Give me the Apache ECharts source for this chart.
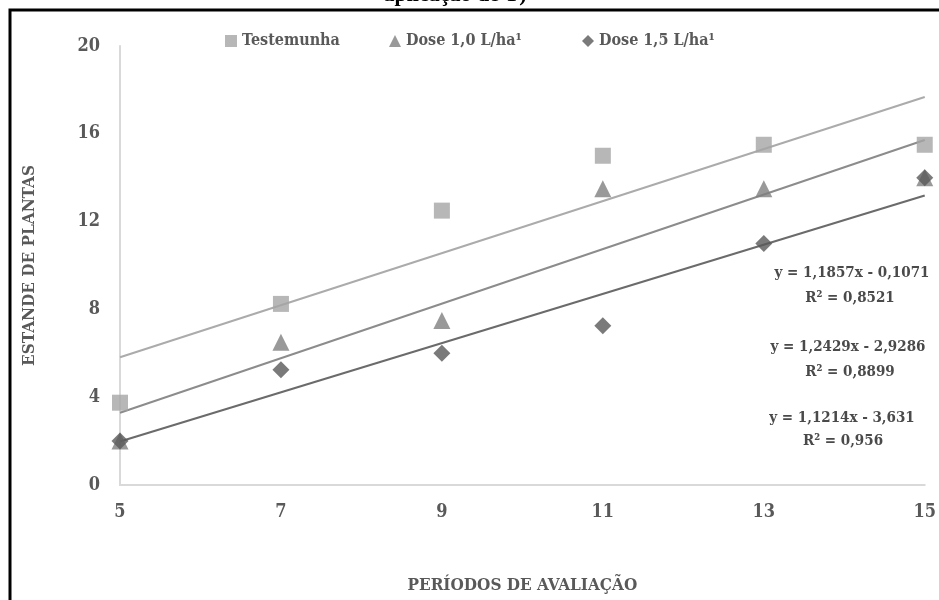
<!DOCTYPE html>
<html lang="pt">

<head>
    <meta charset="UTF-8">
    <title>Estande de plantas</title>
    <script src="https://cdn.jsdelivr.net/npm/echarts@6/dist/echarts.min.js"></script>
    <style>
        body { margin: 0; background: #fff; }
        #main { width: 939px; height: 600px; }
    </style>
</head>

<body>
    <div id="main"></div>

    <script>
        // dados
        const periodos = [5, 7, 9, 11, 13, 15];
        const testemunha = [3.75, 8.25, 12.5, 15, 15.5, 15.5];
        const dose10 = [2, 6.5, 7.5, 13.5, 13.5, 14];
        const dose15 = [2, 5.25, 6, 7.25, 11, 14];

        // linhas de tendência (extremos em x = 5 e x = 15)
        const tendX = [5, 15];
        const tendTestemunha = [5.82, 17.68];
        const tendDose10 = [3.29, 15.72];
        const tendDose15 = [1.98, 13.19];

        const nomes = ['Testemunha', 'Dose 1,0 L/ha¹', 'Dose 1,5 L/ha¹'];
        const equacoes = [
            ['y = 1,1857x - 0,1071', 'R² = 0,8521'],
            ['y = 1,2429x - 2,9286', 'R² = 0,8899'],
            ['y = 1,1214x - 3,631', 'R² = 0,956']
        ];

        const fonte = "'DejaVu Serif Condensed', 'DejaVu Serif', serif";
        const cinzaTexto = '#595959';

        const pares = (xs, ys) => xs.map((x, i) => [x, ys[i]]);

        const myChart = echarts.init(document.getElementById('main'));

        // textos das equações
        const eqGraphics = [];
        const eqPos = [[852, 273, 850, 298], [848, 347, 850, 372], [842, 418, 843, 441]];
        equacoes.forEach((eq, i) => {
            const p = eqPos[i];
            eqGraphics.push({
                type: 'text', x: p[0], y: p[1],
                style: { text: eq[0], font: 'bold 15px ' + fonte, fill: '#4a4a4a', align: 'center', verticalAlign: 'middle' }
            });
            eqGraphics.push({
                type: 'text', x: p[2], y: p[3],
                style: { text: eq[1], font: 'bold 15px ' + fonte, fill: '#4a4a4a', align: 'center', verticalAlign: 'middle' }
            });
        });

        // uma legenda por série, para posicionar como no original
        const legendLeft = [220, 384, 577];
        const legends = nomes.map((n, i) => ({
            data: [n],
            left: legendLeft[i],
            top: 28,
            itemWidth: 12,
            itemHeight: 12,
            itemGap: 4,
            textStyle: { color: cinzaTexto, fontFamily: fonte, fontWeight: 'bold', fontSize: 16 }
        }));

        const option = {
            animation: false,
            backgroundColor: '#fff',
            legend: legends,
            grid: { left: 120, right: 12, top: 46, bottom: 115 },
            xAxis: {
                type: 'value',
                min: 5, max: 15, interval: 2,
                name: 'PERÍODOS DE AVALIAÇÃO',
                nameLocation: 'middle',
                nameGap: 92,
                nameTextStyle: { color: cinzaTexto, fontFamily: fonte, fontWeight: 'bold', fontSize: 17 },
                axisLine: { lineStyle: { color: '#d9d9d9', width: 2 } },
                axisTick: { show: false },
                splitLine: { show: false },
                axisLabel: { color: cinzaTexto, fontFamily: fonte, fontWeight: 'bold', fontSize: 18, margin: 18 }
            },
            yAxis: {
                type: 'value',
                min: 0, max: 20, interval: 4,
                name: 'ESTANDE DE PLANTAS',
                nameLocation: 'middle',
                nameGap: 82,
                nameTextStyle: { color: cinzaTexto, fontFamily: fonte, fontWeight: 'bold', fontSize: 17 },
                axisLine: { show: true, lineStyle: { color: '#d9d9d9', width: 2 } },
                axisTick: { show: false },
                splitLine: { show: false },
                axisLabel: { color: cinzaTexto, fontFamily: fonte, fontWeight: 'bold', fontSize: 18, margin: 20 }
            },
            series: [
                {
                    name: 'Tend. Testemunha', type: 'line', data: pares(tendX, tendTestemunha),
                    symbol: 'none', lineStyle: { color: '#ababab', width: 2 }, z: 1
                },
                {
                    name: 'Tend. Dose 1,0', type: 'line', data: pares(tendX, tendDose10),
                    symbol: 'none', lineStyle: { color: '#8c8c8c', width: 2 }, z: 1
                },
                {
                    name: 'Tend. Dose 1,5', type: 'line', data: pares(tendX, tendDose15),
                    symbol: 'none', lineStyle: { color: '#6b6b6b', width: 2.2 }, z: 1
                },
                {
                    name: nomes[0], type: 'scatter', data: pares(periodos, testemunha),
                    symbol: 'rect', symbolSize: 16, itemStyle: { color: '#a5a5a5' }, z: 3
                },
                {
                    name: nomes[1], type: 'scatter', data: pares(periodos, dose10),
                    symbol: 'triangle', symbolSize: 17, itemStyle: { color: '#7f7f7f' }, z: 3
                },
                {
                    name: nomes[2], type: 'scatter', data: pares(periodos, dose15),
                    symbol: 'diamond', symbolSize: 17, itemStyle: { color: '#595959' }, z: 4
                }
            ],
            graphic: [
                {
                    type: 'text', x: 455, y: 6,
                    style: { text: 'aplicação de T)', font: 'bold 22px "Liberation Serif", serif', fill: '#000', align: 'center', verticalAlign: 'bottom' },
                    z: 0
                },
                {
                    type: 'rect', shape: { x: 10, y: 10, width: 960, height: 620 },
                    style: { fill: 'none', stroke: '#000', lineWidth: 3 },
                    z: 10
                }
            ].concat(eqGraphics)
        };

        myChart.setOption(option);
    </script>
</body>

</html>
